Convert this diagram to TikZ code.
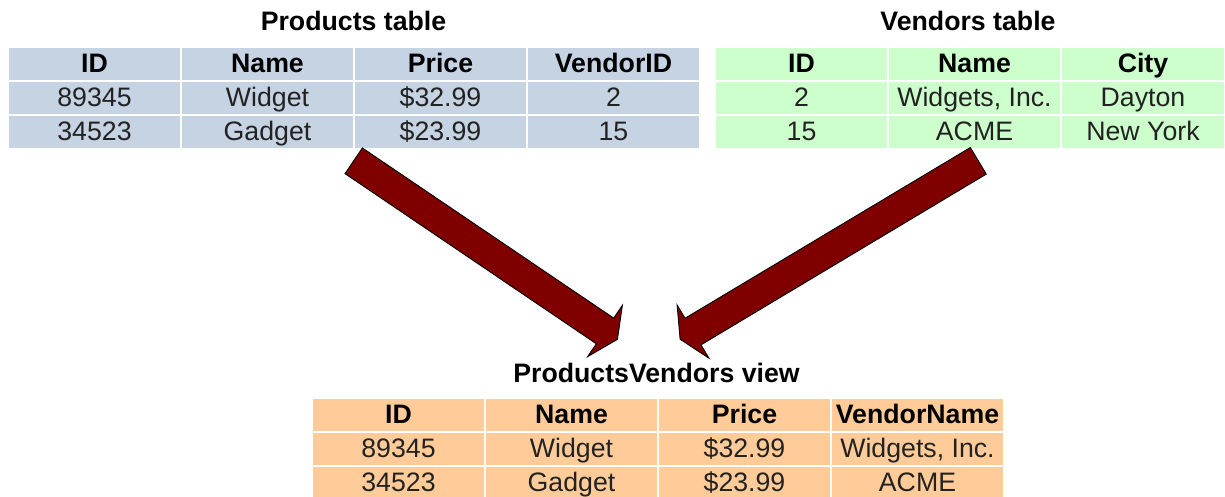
\documentclass[tikz,border=0pt]{standalone}
\usepackage{fontspec}
\setmainfont{Liberation Sans}
\usetikzlibrary{matrix}

\definecolor{prodblue}{RGB}{198,211,227}
\definecolor{vendgreen}{RGB}{204,255,204}
\definecolor{vieworange}{RGB}{255,204,153}
\definecolor{arrowred}{RGB}{128,0,0}
\definecolor{celltext}{RGB}{34,34,34}

\tikzset{
  bigfont/.style={font=\fontsize{26.7}{32}\selectfont},
  cell/.style={bigfont, text=celltext, minimum width=171pt, minimum height=32pt,
    inner sep=0pt, outer sep=0pt, text height=19pt, text depth=3pt},
  datatable/.style={matrix of nodes, inner sep=0pt, outer sep=0pt,
    column sep=2pt, row sep=2pt, anchor=north west,
    nodes={cell, fill=#1},
    row 1/.style={nodes={font=\fontsize{26.7}{32}\selectfont\bfseries, text=black}}},
  caption/.style={font=\fontsize{26.7}{32}\selectfont\bfseries, anchor=base, inner sep=0pt},
  arrowbody/.style={fill=arrowred, draw=black, line width=0.9pt, line join=miter},
  % wide block arrow: #1 = length from tail to the barbs
  pics/blockarrow/.style={code={
    \draw[arrowbody] (0,-15.5) -- (#1,-15.5) -- (#1,-31) -- ({#1+15},0)
      -- (#1,31) -- (#1,15.5) -- (0,15.5) -- cycle;}},
}

\begin{document}
\begin{tikzpicture}[x=1pt, y=-1pt]
  \path[use as bounding box, clip] (0,0) rectangle (1225,496);

  % captions
  \node[caption] (prodtitle) at (353.5,30) {Products table};
  \node[caption] (vendtitle) at (968,30) {Vendors table};
  \node[caption] (viewtitle) at (656.5,382) {ProductsVendors view};

  % Products table
  \matrix (prod) [datatable=prodblue] at (9,48) {
    ID & Name & Price & VendorID \\
    89345 & Widget & \$32.99 & 2 \\
    34523 & Gadget & \$23.99 & 15 \\
  };

  % Vendors table
  \matrix (vend) [datatable=vendgreen, column 3/.style={nodes={minimum width=162pt}}] at (716,48) {
    ID & Name & City \\
    2 & Widgets, Inc. & Dayton \\
    15 & ACME & New York \\
  };

  % ProductsVendors view
  \matrix (view) [datatable=vieworange] at (313,399) {
    ID & Name & Price & VendorName \\
    89345 & Widget & \$32.99 & Widgets, Inc. \\
    34523 & Gadget & \$23.99 & ACME \\
  };

  % block arrows feeding the view
  \pic (leftarrow) [rotate=-34.1] at (353.7,160.8) {blockarrow=303.5};
  \pic (rightarrow) [rotate=210.9] at (978.3,160.8) {blockarrow=332.5};
\end{tikzpicture}
\end{document}
